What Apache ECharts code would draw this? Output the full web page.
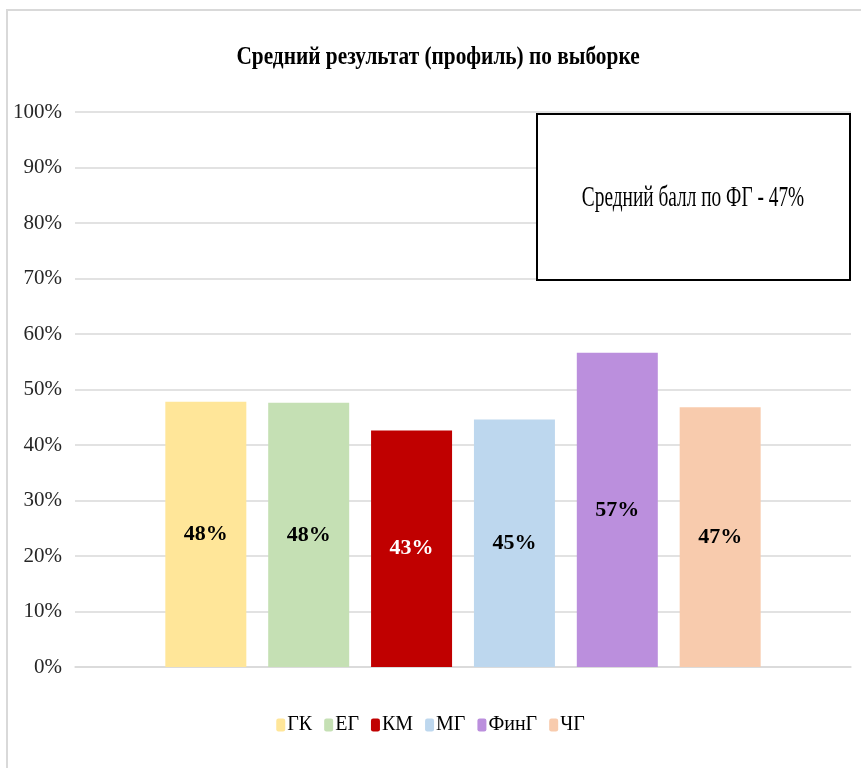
<!DOCTYPE html>
<html>
<head>
<meta charset="utf-8">
<script src="https://cdn.jsdelivr.net/npm/echarts@6/dist/echarts.min.js"></script>
<style>
  html, body { margin: 0; padding: 0; background: #fff; }
  #chart { width: 861px; height: 768px; }
</style>
</head>
<body>
<div id="chart"></div>
<script>
var groups = ['ГК', 'ЕГ', 'КМ', 'МГ', 'ФинГ', 'ЧГ'];
var values = [0.478, 0.476, 0.426, 0.446, 0.566, 0.468];
var colors = ['#FFE699', '#C5E0B4', '#C00000', '#BDD7EE', '#BB8FDD', '#F8CBAD'];
var yTicks = [0, 0.1, 0.2, 0.3, 0.4, 0.5, 0.6, 0.7, 0.8, 0.9, 1];
var titleText = 'Средний результат (профиль) по выборке';
var note = 'Средний балл по ФГ - 47%';

var font = '"Liberation Serif", "Times New Roman", serif';
var myChart = echarts.init(document.getElementById('chart'));

function pct(v) {
    return Math.round(v * 100) + '%';
}

var series = groups.map(function (name, i) {
    return {
        name: name,
        type: 'bar',
        barWidth: 81,
        barGap: '27%',
        itemStyle: { color: colors[i] },
        label: {
            show: true,
            position: 'inside',
            formatter: function (p) { return pct(p.value); },
            fontFamily: font,
            fontWeight: 'bold',
            fontSize: 22,
            color: i == 2 ? '#fff' : '#000'
        },
        data: [values[i]]
    };
});

var option = {
    backgroundColor: '#fff',
    animation: false,
    legend: {
        bottom: 28,
        left: 'center',
        itemWidth: 9,
        itemHeight: 13,
        itemGap: 12,
        textStyle: { fontFamily: font, fontSize: 20, color: '#000', padding: [0, 0, 0, -3] },
        data: groups
    },
    grid: { left: 75, right: 10, top: 112, bottom: 101 },
    xAxis: {
        type: 'category',
        data: [''],
        axisLine: { lineStyle: { color: '#d9d9d9', width: 1.5 } },
        axisTick: { show: false },
        axisLabel: { show: false }
    },
    yAxis: {
        type: 'value',
        min: yTicks[0],
        max: yTicks[yTicks.length - 1],
        interval: 0.1,
        axisLine: { show: false },
        axisTick: { show: false },
        splitLine: { lineStyle: { color: '#d9d9d9', width: 1.5 } },
        axisLabel: {
            formatter: pct,
            fontFamily: font,
            fontSize: 21,
            color: '#262626',
            margin: 13
        }
    },
    graphic: [
        {
            type: 'rect',
            shape: { x: 7, y: 10, width: 860, height: 770 },
            style: { fill: 'none', stroke: '#d9d9d9', lineWidth: 2 },
            silent: true
        },
        // title, squeezed like the original
        {
            type: 'text',
            x: 438,
            y: 57,
            scaleX: 0.82,
            style: {
                text: titleText,
                fontFamily: font,
                fontWeight: 'bold',
                fontSize: 26,
                fill: '#000',
                align: 'center',
                verticalAlign: 'middle'
            }
        },
        {
            type: 'rect',
            shape: { x: 537, y: 114, width: 313, height: 166 },
            style: { fill: '#fff', stroke: '#000', lineWidth: 2 },
            z: 10
        },
        {
            type: 'text',
            x: 693,
            y: 198,
            scaleX: 0.645,
            style: {
                text: note,
                fontFamily: font,
                fontSize: 30,
                fill: '#000',
                align: 'center',
                verticalAlign: 'middle'
            },
            z: 11
        }
    ],
    series: series
};

myChart.setOption(option);
</script>
</body>
</html>
